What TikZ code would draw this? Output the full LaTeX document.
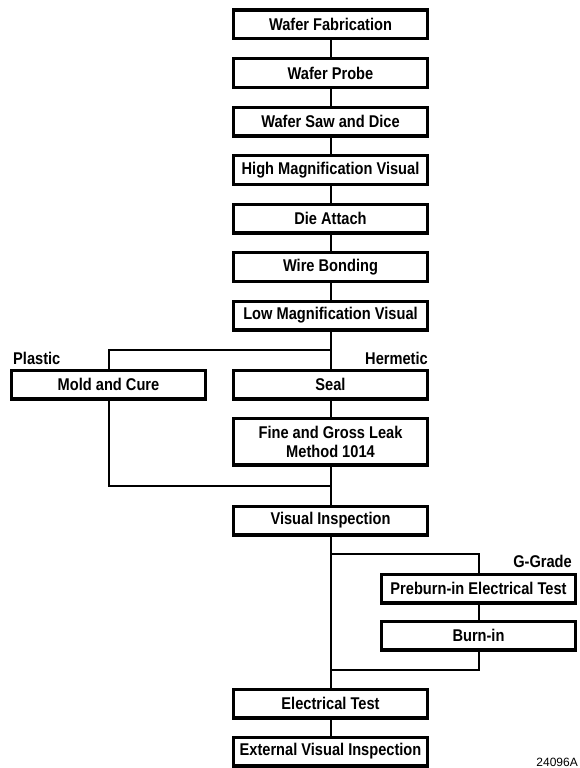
\documentclass[tikz,border=0pt]{standalone}
\usepackage{fontspec}
\setmainfont{Liberation Sans}
\newfontfamily\flowfont[FakeStretch=0.86]{Liberation Sans}
\usetikzlibrary{positioning}

\begin{document}
\begin{tikzpicture}[x=1pt, y=-1pt, node distance=16.5pt,
                    every node/.style={font=\flowfont\bfseries\fontsize{17}{19}\selectfont}]
  \tikzset{stepbox/.style={draw, line width=3.4pt, minimum width=193.6pt,
                           minimum height=28.6pt, inner sep=2pt, align=center},
           link/.style={line width=2pt},
           tag/.style={inner sep=0pt}}
  \useasboundingbox (0,0) rectangle (580,768);

  % Main process column
  \node[stepbox] (fab) at (330.5,24.5) {Wafer Fabrication};
  \node[stepbox, below=of fab] (probe) {Wafer Probe};
  \node[stepbox, below=of probe] (saw) {Wafer Saw and Dice};
  \node[stepbox, below=of saw] (himag) {High Magnification Visual};
  \node[stepbox, below=of himag] (die) {Die Attach};
  \node[stepbox, below=of die] (wire) {Wire Bonding};
  \node[stepbox, below=of wire] (lowmag) {Low Magnification Visual};

  % Package split
  \node[stepbox, below=37pt of lowmag] (seal) {Seal};
  \node[stepbox, left=25pt of seal] (mold) {Mold and Cure};
  \node[stepbox, minimum height=46.6pt, below=16pt of seal] (fine)
    {Fine and Gross Leak\\Method 1014};
  \node[stepbox, below=38pt of fine] (visinsp) {Visual Inspection};

  % G-Grade branch
  \node[stepbox, below=36pt of visinsp, xshift=148pt] (preburn) {Preburn-in Electrical Test};
  \node[stepbox, below=15pt of preburn] (burnin) {Burn-in};

  \node[stepbox, below=36pt of burnin, xshift=-148pt] (electrical) {Electrical Test};
  \node[stepbox, below=16pt of electrical] (external) {External Visual Inspection};

  % Branch labels
  \node[tag, anchor=base west] (plastic) at ([xshift=3pt, yshift=4.5pt]mold.north west) {Plastic};
  \node[tag, anchor=base east] (hermetic) at ([xshift=-1pt, yshift=4.5pt]seal.north east) {Hermetic};
  \node[tag, anchor=base east] (ggrade) at ([xshift=-5pt, yshift=5pt]preburn.north east) {G-Grade};
  \node[tag, anchor=base east, font=\fontsize{12}{14}\selectfont] (figno) at (578,766) {24096A};

  % Junction points
  \path (lowmag.south) ++(0,-18pt) coordinate (split);
  \path (fine.south) ++(0,-19pt) coordinate (join);
  \path (visinsp.south) ++(0,-17pt) coordinate (gsplit);
  \path (burnin.south) ++(0,-18pt) coordinate (gdrop);

  % Connectors
  \foreach \a/\b in {fab/probe, probe/saw, saw/himag, himag/die, die/wire,
                     wire/lowmag, lowmag/seal, seal/fine, fine/visinsp,
                     visinsp/electrical, electrical/external, preburn/burnin}
    \draw[link] (\a) -- (\b);
  \draw[link] (split) -| (mold.north);
  \draw[link] (mold.south) |- (join);
  \draw[link] (gsplit) -| (preburn.north);
  \draw[link] (burnin.south) |- (visinsp |- gdrop);

\end{tikzpicture}
\end{document}
